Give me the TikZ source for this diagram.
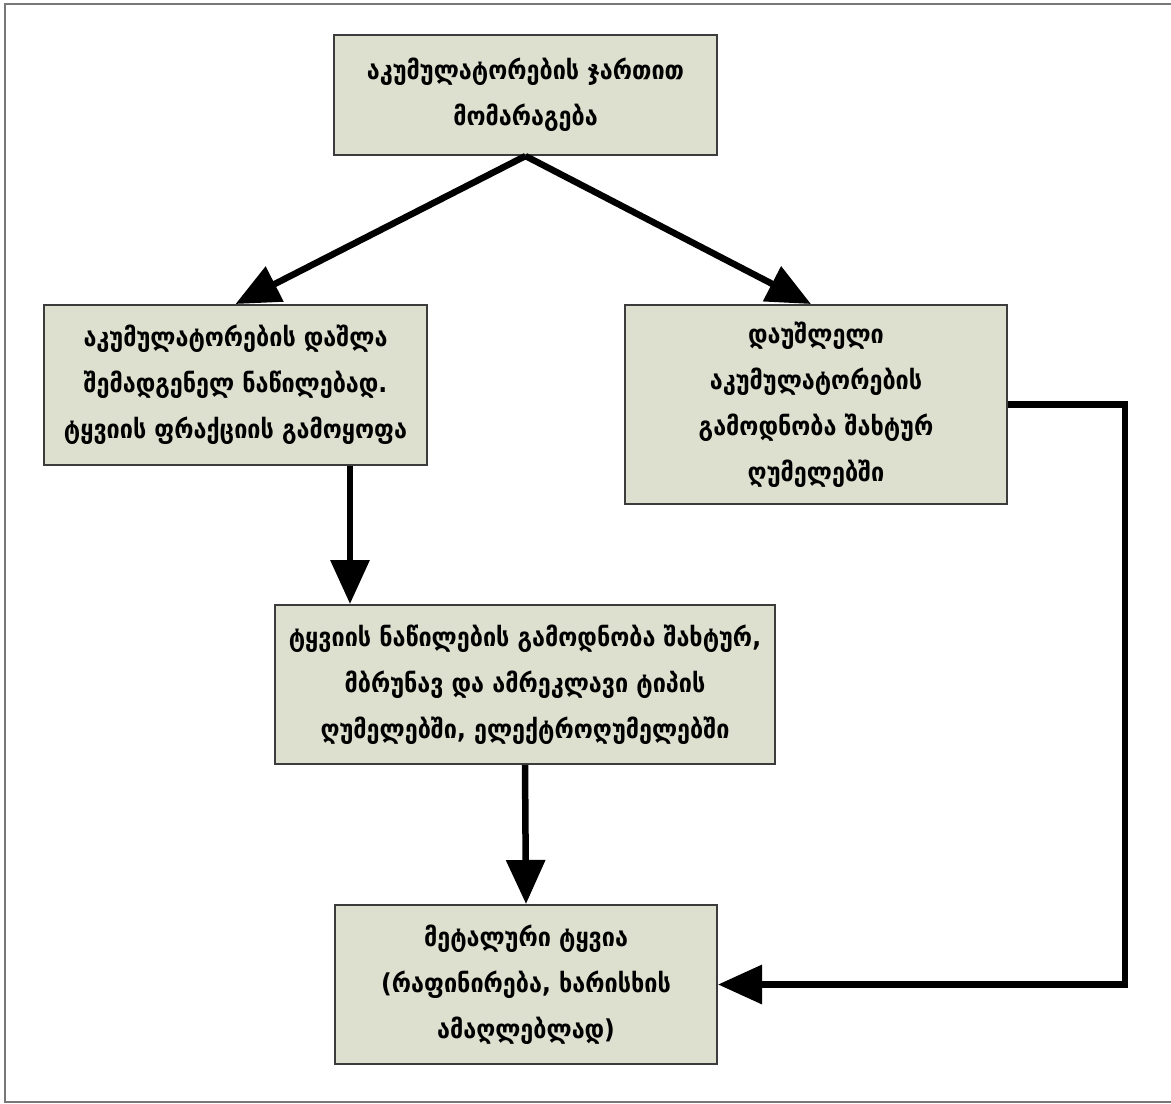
\documentclass[tikz,border=0pt]{standalone}
\usepackage{fontspec}
\usetikzlibrary{arrows.meta}
\newfontfamily\geofont{DejaVu Sans Condensed}
\definecolor{boxfill}{RGB}{221,224,207}
\definecolor{boxedge}{RGB}{60,60,60}
\definecolor{framegray}{RGB}{120,120,120}
\begin{document}
\begin{tikzpicture}[x=1pt,y=-1pt,
  stepbox/.style={draw=boxedge,line width=2pt,fill=boxfill,align=center,
    inner sep=0pt,font=\geofont\bfseries\fontsize{26}{46}\selectfont},
  flow/.style={line width=6.5pt,-{Triangle[length=44pt,width=38pt]}}]
  \useasboundingbox (0,0) rectangle (1171,1104);
  % outer frame
  \draw[framegray,line width=2pt] (1171,4) -- (5,4) -- (5,1102) -- (1171,1102);
  % process boxes
  \node[stepbox,minimum width=383pt,minimum height=120pt] (supply) at (525.5,95)
    {აკუმულატორების ჯართით\\მომარაგება};
  \node[stepbox,minimum width=383pt,minimum height=160pt] (dismantle) at (235.5,385)
    {აკუმულატორების დაშლა\\შემადგენელ ნაწილებად.\\ტყვიის ფრაქციის გამოყოფა};
  \node[stepbox,minimum width=382pt,minimum height=199pt] (whole) at (816,404.5)
    {დაუშლელი\\აკუმულატორების\\გამოდნობა შახტურ\\ღუმელებში};
  \node[stepbox,minimum width=500pt,minimum height=159pt] (smelt) at (525,684.5)
    {ტყვიის ნაწილების გამოდნობა შახტურ,\\მბრუნავ და ამრეკლავი ტიპის\\ღუმელებში, ელექტროღუმელებში};
  \node[stepbox,minimum width=382pt,minimum height=159pt] (lead) at (526,984.5)
    {მეტალური ტყვია\\(რაფინირება, ხარისხის\\ამაღლებლად)};
  % connectors
  \draw[flow] (supply.south) -- (dismantle.north);
  \draw[flow] (supply.south) -- (dismantle.north -| 811,0);
  \draw[flow] (dismantle.south -| 350,0) -- (smelt.north -| 350,0);
  \draw[flow] (smelt.south) -- (lead.north);
  \draw[flow] (whole.east) -- (1125,404.5) |- (lead.east);
\end{tikzpicture}
\end{document}
